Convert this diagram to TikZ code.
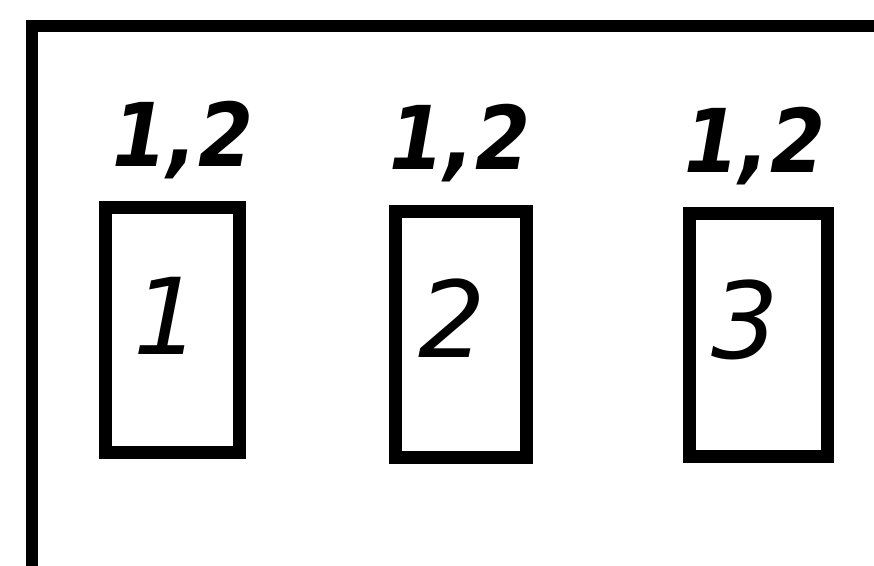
\documentclass[tikz,border=0pt]{standalone}
\usepackage{fontspec}
\setmainfont{DejaVu Sans}
\newfontfamily\labelfont{DejaVu Sans Condensed}
\begin{document}
\begin{tikzpicture}[x=1pt,y=-1pt,
  cell/.style={draw,line width=13pt,inner sep=0pt,outer sep=0pt},
  toplabel/.style={font=\labelfont\fontsize{88}{88}\selectfont\bfseries\itshape,inner sep=0pt},
  cellnum/.style={font=\fontsize{106}{106}\selectfont\itshape,inner sep=0pt}]
\useasboundingbox (0,0) rectangle (874,565);
\begin{scope}
\clip (0,0) rectangle (874,565);
\draw[line width=12pt] (890,26) -- (32,26) -- (32,580);
\end{scope}
\node[cell,minimum width=134pt,minimum height=245pt] (b1) at (172,330) {};
\node[cell,minimum width=131pt,minimum height=246pt] (b2) at (461,334) {};
\node[cell,minimum width=138pt,minimum height=243pt] (b3) at (758,335) {};
\node[cellnum] (n1) at (167,316) {1};
\node[cellnum] (n2) at (452,318) {2};
\node[cellnum] (n3) at (745,320) {3};
\node[toplabel] (l1) at (183,140) {1,2};
\node[toplabel] (l2) at (460,143) {1,2};
\node[toplabel] (l3) at (755,146) {1,2};
\end{tikzpicture}
\end{document}
